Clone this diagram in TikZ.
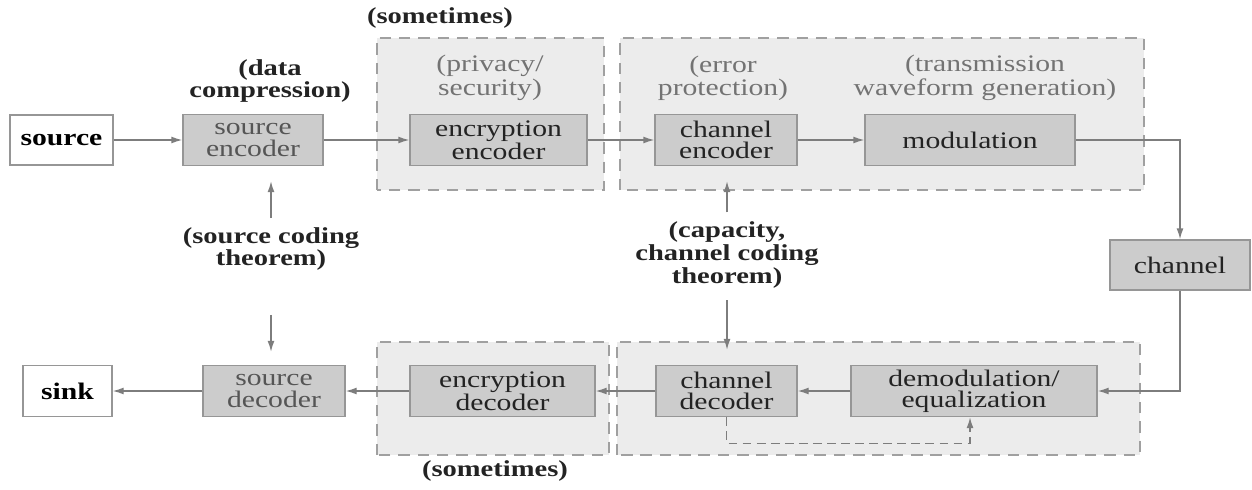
\documentclass[tikz,border=0pt]{standalone}
\usepackage{fontspec}
\setmainfont{Liberation Serif}[FakeStretch=1.25]
\usetikzlibrary{positioning,arrows.meta}
\definecolor{CommPanel}{RGB}{236,236,236}
\definecolor{CommDash}{RGB}{160,160,160}
\definecolor{CommBox}{RGB}{204,204,204}
\definecolor{CommEdge}{RGB}{150,150,150}
\definecolor{CommLine}{RGB}{125,125,125}
\definecolor{CommText}{RGB}{35,35,35}
\definecolor{CommMid}{RGB}{85,85,85}
\definecolor{CommSoft}{RGB}{115,115,115}

\begin{document}
\begin{tikzpicture}[
  blk/.style={draw=CommEdge,fill=CommBox,line width=0.8pt,minimum height=1.02cm,inner sep=1pt,align=center,text=CommText,font=\fontsize{13.5}{12}\selectfont},
  endblk/.style={blk,fill=white,text=black,font=\bfseries\fontsize{13.5}{12}\selectfont},
  panel/.style={draw=CommDash,fill=CommPanel,line width=1.1pt,dash pattern=on 6.5pt off 4.5pt},
  note/.style={align=center,inner sep=1pt,text=CommText,font=\bfseries\fontsize{13}{12.5}\selectfont},
  hint/.style={align=center,inner sep=1pt,text=CommSoft,font=\fontsize{13.5}{11.5}\selectfont},
  arr/.style={-{Latex[length=2.2mm,width=1.4mm]},line width=0.8pt,CommLine}
]
  \useasboundingbox (0,0) rectangle (25.04,9.78);

  % dashed groups
  \draw[panel] (7.54,5.98) rectangle (12.08,9.02);
  \draw[panel] (12.40,5.98) rectangle (22.88,9.02);
  \draw[panel] (7.54,0.68) rectangle (12.18,2.94);
  \draw[panel] (12.34,0.68) rectangle (22.80,2.94);

  % transmitter chain
  \node[endblk,minimum width=2.06cm,minimum height=1cm] (src) at (1.23,6.98) {source};
  \node[blk,minimum width=2.8cm,text=CommMid] (srcenc) at (5.06,6.98) {source\\encoder};
  \node[blk,minimum width=3.54cm] (encenc) at (9.97,6.98) {encryption\\encoder};
  \node[blk,minimum width=2.84cm] (chenc) at (14.52,6.98) {channel\\encoder};
  \node[blk,minimum width=4.2cm] (mod) at (19.4,6.98) {modulation};

  \node[blk,minimum width=2.8cm,minimum height=1cm] (chan) at (23.6,4.48) {channel};

  % receiver chain
  \node[blk,minimum width=4.92cm] (demod) at (19.48,1.96) {demodulation/\\equalization};
  \node[blk,minimum width=2.82cm] (chdec) at (14.53,1.96) {channel\\decoder};
  \node[blk,minimum width=3.7cm] (encdec) at (10.05,1.96) {encryption\\decoder};
  \node[blk,minimum width=2.84cm,text=CommMid] (srcdec) at (5.48,1.96) {source\\decoder};
  \node[endblk,minimum width=1.78cm] (sink) at (1.35,1.96) {sink};

  % labels
  \node[note] (sometop) at (8.8,9.42) {(sometimes)};
  \node[note] (compr) at (5.4,8.16) {(data\\compression)};
  \node[hint] (privacy) at (9.8,8.22) {(privacy/\\security)};
  \node[hint] (errprot) at (14.46,8.22) {(error\\protection)};
  \node[hint] (wave) at (19.7,8.22) {(transmission\\waveform generation)};
  \node[note] (srcthm) at (5.42,4.8) {(source coding\\theorem)};
  \node[note,font=\bfseries\fontsize{13}{11}\selectfont] (capthm) at (14.54,4.68) {(capacity,\\channel coding\\theorem)};
  \node[note] (somebot) at (9.9,0.36) {(sometimes)};

  % signal path
  \draw[arr] (src) -- (srcenc);
  \draw[arr] (srcenc) -- (encenc);
  \draw[arr] (encenc) -- (chenc);
  \draw[arr] (chenc) -- (mod);
  \draw[arr] (mod.east) -| (chan.north);
  \draw[arr] (chan.south) |- (demod.east);
  \draw[arr] (demod) -- (chdec);
  \draw[arr] (chdec) -- (encdec);
  \draw[arr] (encdec) -- (srcdec);
  \draw[arr] (srcdec) -- (sink);

  % feedback
  \coordinate (fb) at ([yshift=-0.52cm]chdec.south);
  \draw[arr,dash pattern=on 5pt off 3pt] (chdec.south) -- (fb) -| ([xshift=-0.08cm]demod.south);

  % theorems
  \draw[arr,shorten <=0.15cm,shorten >=0.3cm] (srcthm.north) -- (srcthm.north |- srcenc.south);
  \draw[arr,shorten <=0.85cm,shorten >=0.26cm] (srcthm.south) -- (srcthm.south |- srcdec.north);
  \draw[arr,shorten <=0.15cm,shorten >=0.3cm] (capthm.north) -- (capthm.north |- chenc.south);
  \draw[arr,shorten <=0.2cm,shorten >=0.3cm] (capthm.south) -- (capthm.south |- chdec.north);
\end{tikzpicture}
\end{document}
